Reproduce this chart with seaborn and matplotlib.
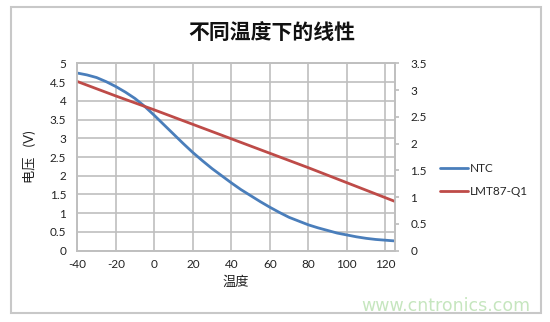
import matplotlib
matplotlib.use("Agg")
import matplotlib.pyplot as plt
import seaborn as sns
import pandas as pd
from matplotlib.patches import Rectangle

# ---- data ----
temp_ntc = [-40, -35, -30, -25, -20, -15, -10, -5, 0, 5, 10, 15, 20, 25, 30, 35, 40,
            45, 50, 55, 60, 65, 70, 75, 80, 85, 90, 95, 100, 105, 110, 115, 120, 125]
ntc_v = [4.74, 4.69, 4.62, 4.51, 4.38, 4.23, 4.06, 3.85, 3.61, 3.36, 3.11, 2.86, 2.62, 2.40, 2.19, 2.00, 1.81,
         1.63, 1.47, 1.31, 1.16, 1.02, 0.89, 0.79, 0.69, 0.61, 0.54, 0.47, 0.42, 0.37, 0.33, 0.30, 0.28, 0.26]

temp_lmt = [-40, -20, 0, 20, 40, 60, 80, 100, 120, 125]
lmt_v = [3.16, 2.89, 2.63, 2.36, 2.09, 1.82, 1.55, 1.27, 0.99, 0.92]

x_ticks = [-40, -20, 0, 20, 40, 60, 80, 100, 120]
left_ticks = [0, 0.5, 1, 1.5, 2, 2.5, 3, 3.5, 4, 4.5, 5]
right_ticks = [0, 0.5, 1, 1.5, 2, 2.5, 3, 3.5]

title = "不同温度下的线性"
xlabel = "温度"
ylabel = "电压   (V)"
series_names = ["NTC", "LMT87-Q1"]

sns.set_theme(style="white")
plt.rcParams['font.family'] = ['Lato', 'Noto Sans CJK SC', 'DejaVu Sans']

blue = "#4a7ebb"
red = "#be4b48"
grid_c = "#bfbfbf"

fig = plt.figure(figsize=(5.5, 3.22), dpi=100)
ax = fig.add_axes([77.3 / 550, 1 - 250.7 / 322, (395 - 77.3) / 550, (250.7 - 63.3) / 322])
ax2 = ax.twinx()

df_ntc = pd.DataFrame({"t": temp_ntc, "v": ntc_v})
df_lmt = pd.DataFrame({"t": temp_lmt, "v": lmt_v})

sns.lineplot(data=df_ntc, x="t", y="v", ax=ax, color=blue, linewidth=2.0, label=series_names[0], legend=False)
sns.lineplot(data=df_lmt, x="t", y="v", ax=ax2, color=red, linewidth=2.0, label=series_names[1], legend=False)

ax.set_xlim(-40, 125)
ax.set_ylim(0, 5)
ax2.set_ylim(0, 3.5)
ax.set_xticks(x_ticks)
ax.set_xticklabels([str(t) for t in x_ticks])
ax.set_yticks(left_ticks)
ax.set_yticklabels([f"{v:g}" for v in left_ticks])
ax2.set_yticks(right_ticks)
ax2.set_yticklabels([f"{v:g}" for v in right_ticks])

ax.grid(True, color=grid_c, linewidth=1.2)
ax2.grid(False)
ax.set_axisbelow(True)
for sp in ax.spines.values():
    sp.set_color(grid_c)
    sp.set_linewidth(1.2)
for sp in ax2.spines.values():
    sp.set_color(grid_c)
    sp.set_linewidth(1.2)

ax.tick_params(axis='both', which='both', length=0, labelsize=8.5, colors="#222222", pad=6)
ax.tick_params(axis='y', pad=8)
ax2.tick_params(axis='y', length=3, color=grid_c, labelsize=8.5, colors="#222222", pad=8)
for lab in ax2.get_yticklabels():
    lab.set_color("#222222")

ax.set_xlabel(xlabel, fontsize=9.5, labelpad=4, color="#222222")
ax.set_ylabel(ylabel, fontsize=9.5, labelpad=10, color="#222222")
ax2.set_ylabel("")

# legend
h1, l1 = ax.get_legend_handles_labels()
h2, l2 = ax2.get_legend_handles_labels()
fig.legend(h1 + h2, l1 + l2, loc="center left", bbox_to_anchor=(429 / 550, 1 - 180 / 322),
           frameon=False, fontsize=8.5, handlelength=2.4, handletextpad=0.2, labelspacing=1.0)

fig.text(272 / 550, 1 - 33 / 322, title, ha="center", va="center", fontsize=15,
         fontweight="bold", color="#111111")

# outer frame
fig.patches.append(Rectangle((11 / 550, 1 - 313 / 322), 530 / 550, 306 / 322,
                             transform=fig.transFigure, fill=False, edgecolor="#c8c8c8", linewidth=1.5))

fig.text(530 / 550, 1 - 311 / 322, "www.cntronics.com", ha="right", va="baseline",
         fontsize=12.5, color="#c6e6bf", family=["DejaVu Sans"])

fig.savefig("out.png", dpi=100)
